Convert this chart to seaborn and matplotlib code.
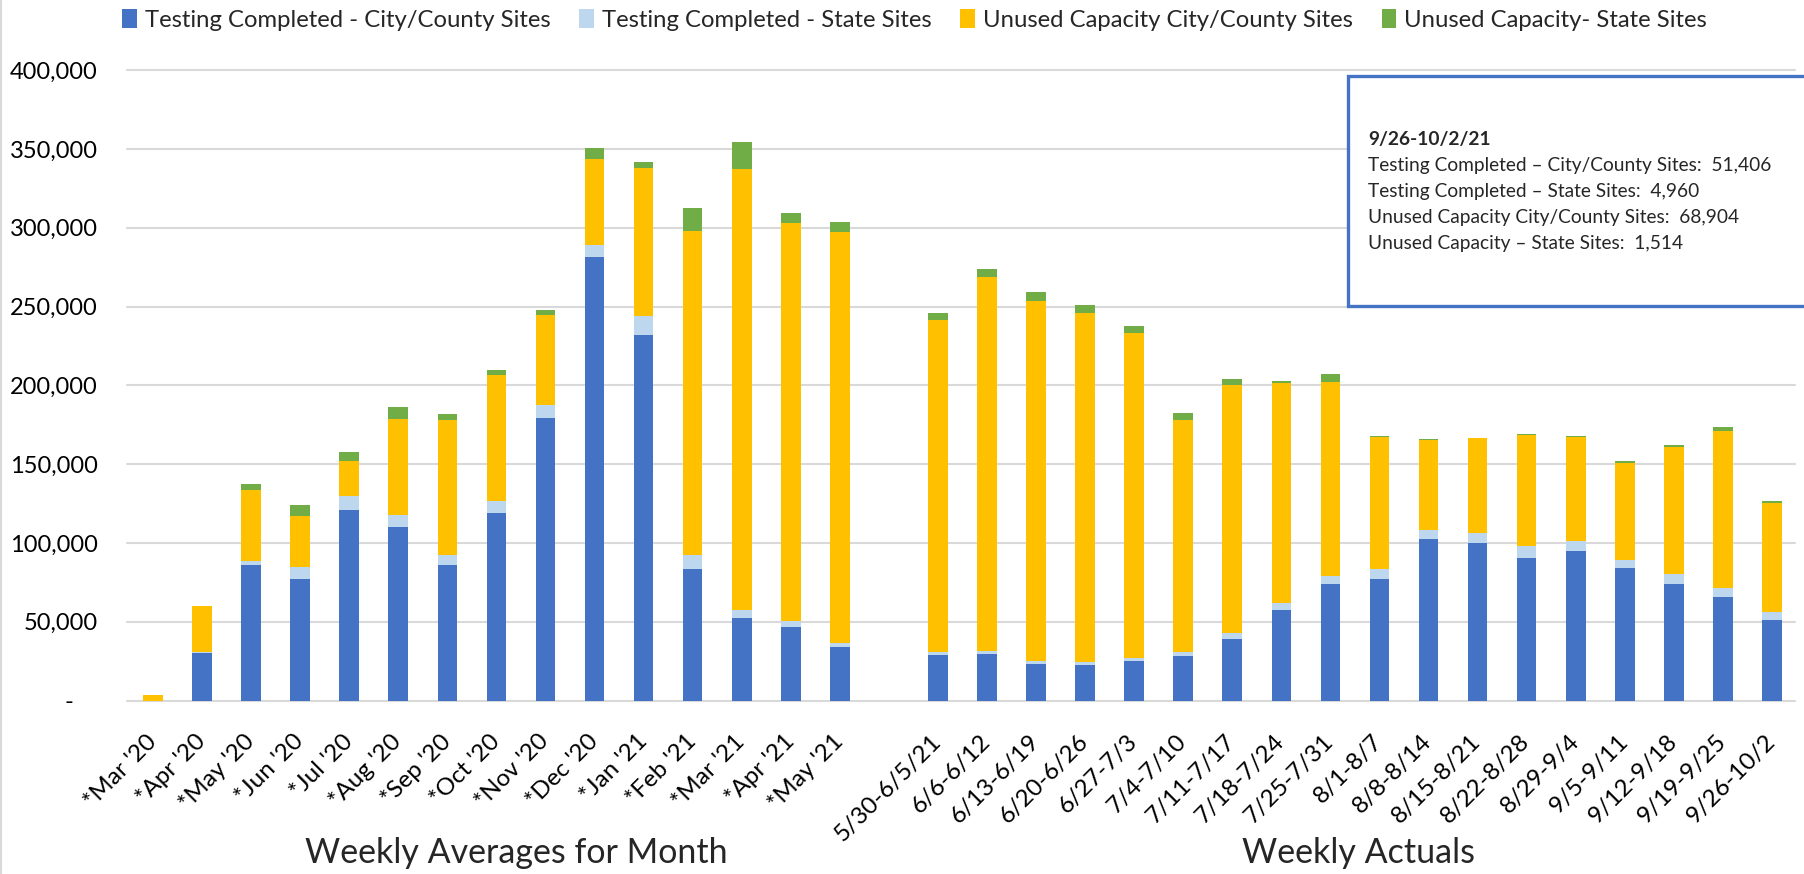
import matplotlib
matplotlib.use("Agg")
import matplotlib.pyplot as plt
from matplotlib.patches import Patch, Rectangle
from matplotlib.lines import Line2D
import seaborn as sns
import pandas as pd

months = ["*Mar '20", "*Apr '20", "*May '20", "*Jun '20", "*Jul '20", "*Aug '20", "*Sep '20",
          "*Oct '20", "*Nov '20", "*Dec '20", "*Jan '21", "*Feb '21", "*Mar '21", "*Apr '21", "*May '21"]
weeks = ["5/30-6/5/21", "6/6-6/12", "6/13-6/19", "6/20-6/26", "6/27-7/3", "7/4-7/10", "7/11-7/17",
         "7/18-7/24", "7/25-7/31", "8/1-8/7", "8/8-8/14", "8/15-8/21", "8/22-8/28", "8/29-9/4",
         "9/5-9/11", "9/12-9/18", "9/19-9/25", "9/26-10/2"]

# monthly weekly averages
city_done_m = [0, 30400, 86000, 77400, 120600, 110400, 86000, 119300, 179600, 281500, 231700, 83700, 52200, 46900, 34200]
state_done_m = [0, 400, 2600, 7400, 9500, 7200, 6400, 7200, 8100, 7800, 12100, 8500, 5300, 3400, 2300]
city_unused_m = [3500, 29200, 44700, 32600, 21600, 61200, 85800, 80000, 57100, 54600, 94200, 205800, 279900, 252800, 260600]
state_unused_m = [0, 200, 4200, 7000, 5900, 7200, 3800, 3200, 3200, 6800, 3800, 14600, 17300, 6500, 6600]

# weekly actuals
city_done_w = [29100, 29700, 23400, 22700, 24900, 28300, 39300, 57500, 74200, 77400, 102400, 100200, 90700, 94800, 84200, 74200, 65900, 51406]
state_done_w = [1900, 1900, 1900, 1900, 2300, 2500, 3800, 4600, 4900, 5900, 5900, 6200, 7400, 6700, 5200, 6100, 5600, 4960]
city_unused_w = [210200, 236900, 228200, 221300, 206000, 147400, 157100, 139100, 122800, 84200, 57300, 60100, 70700, 66000, 61400, 80700, 99700, 68904]
state_unused_w = [4700, 5400, 5500, 5100, 4700, 4000, 3800, 1700, 5500, 300, 400, 400, 500, 400, 900, 1300, 2100, 1514]

series_names = ["Testing Completed - City/County Sites", "Testing Completed - State Sites",
                "Unused Capacity City/County Sites", "Unused Capacity- State Sites"]
colors = ["#4472C4", "#BDD7EE", "#FFC000", "#70AD47"]

note_title = "9/26-10/2/21"
note_lines = ["Testing Completed \u2013 City/County Sites:  51,406",
              "Testing Completed \u2013 State Sites:  4,960",
              "Unused Capacity City/County Sites:  68,904",
              "Unused Capacity \u2013 State Sites:  1,514"]

sns.set_theme(style="white")
plt.rcParams["font.family"] = ["Lato", "DejaVu Sans"]

gap = " "
order = months + [gap] + weeks
df = pd.DataFrame({
    "cat": months + weeks,
    "s1": city_done_m + city_done_w,
    "s2": state_done_m + state_done_w,
    "s3": city_unused_m + city_unused_w,
    "s4": state_unused_m + state_unused_w,
})
df["c1"] = df["s1"]
df["c2"] = df["c1"] + df["s2"]
df["c3"] = df["c2"] + df["s3"]
df["c4"] = df["c3"] + df["s4"]

fig = plt.figure(figsize=(18.04, 8.74), dpi=100)
ax = fig.add_axes([0.0704, 0.1985, 0.9246, 0.7211])

# stacked bars drawn as overlapping cumulative totals, tallest first
for col, color in zip(["c4", "c3", "c2", "c1"], colors[::-1]):
    sns.barplot(data=df, x="cat", y=col, order=order, color=color, saturation=1,
                width=0.4, errorbar=None, ax=ax, linewidth=0)

ax.set_xlim(-0.53, len(order) - 0.53)
ax.set_ylim(0, 400000)
ax.set_yticks(range(0, 400001, 50000))
ax.set_yticklabels(["-    "] + [f"{v:,}" for v in range(50000, 400001, 50000)])
ax.set_xticks(range(len(order)))
ax.set_xticklabels(order, rotation=45, ha="right", rotation_mode="anchor", va="center")
ax.tick_params(axis="y", length=0, pad=21, labelsize=17, colors="#000000")
ax.tick_params(axis="x", length=0, pad=27, labelsize=17.5, colors="#000000")
ax.set_xlabel("")
ax.set_ylabel("")
ax.yaxis.grid(True, color="#D9D9D9", linewidth=1.5)
for ln in ax.get_ygridlines():
    ln.set_clip_on(False)
ax.set_axisbelow(True)
for s in ax.spines.values():
    s.set_visible(False)

fig.text(516 / 1804, 1 - 853 / 874, "Weekly Averages for Month", fontsize=24.5, ha="center", va="center")
fig.text(1359 / 1804, 1 - 853 / 874, "Weekly Actuals", fontsize=24.5, ha="center", va="center")

handles = [Patch(facecolor=c, edgecolor="none") for c in colors]
fig.legend(handles, series_names, loc="center", bbox_to_anchor=(0.507, 1 - 20 / 874), ncol=4,
           frameon=False, fontsize=17.2, handlelength=0.6, handleheight=0.8,
           handletextpad=0.35, columnspacing=1.2, borderaxespad=0)

# note box (runs off the right edge)
fig.patches.append(Rectangle((1348 / 1804, 1 - 306 / 874), 0.3, 230 / 874, transform=fig.transFigure,
                             facecolor="white", edgecolor="#4472C4", linewidth=2.4, zorder=5))
fig.text(1368 / 1804, 1 - 140 / 874, note_title, fontsize=13.8, fontweight="bold", va="center", zorder=6)
for i, line in enumerate(note_lines):
    fig.text(1368 / 1804, 1 - (166 + 25.7 * i) / 874, line, fontsize=13.8, va="center", zorder=6)

fig.add_artist(Line2D([1 / 1804, 1 / 1804], [0, 1], transform=fig.transFigure, color="#D9D9D9", linewidth=1.5))

fig.savefig("out.png", dpi=100)
